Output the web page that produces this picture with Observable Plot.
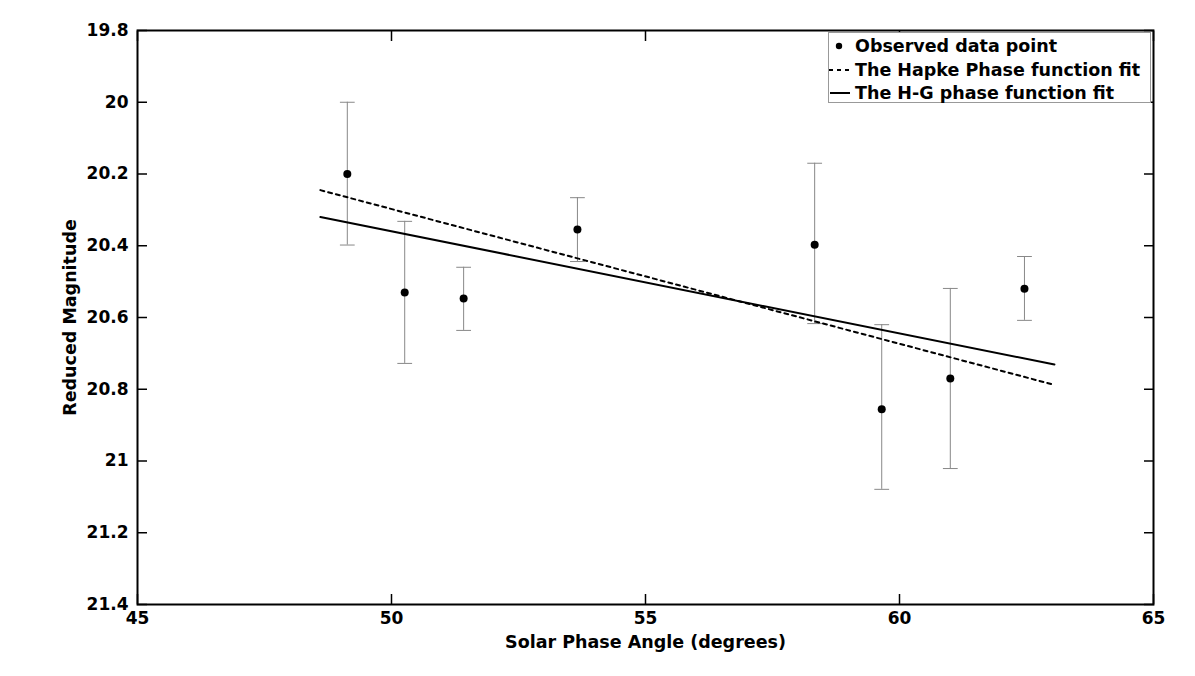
<!DOCTYPE html>
<html>
<head>
<meta charset="utf-8">
<script src="https://cdn.jsdelivr.net/npm/d3@7"></script>
<script src="https://cdn.jsdelivr.net/npm/@observablehq/plot@0.6"></script>
<style>
  html, body { margin: 0; padding: 0; background: #fff; }
  #wrap { position: relative; width: 1195px; height: 676px; font-family: "DejaVu Sans", sans-serif; }
  #legend { position: absolute; left: 828px; top: 32px; width: 323px; height: 71px;
    border: 1px solid #999; background: #fff; box-sizing: border-box;
    font-weight: bold; font-size: 17.5px; color: #000; }
  .row { position: absolute; left: 0; height: 22px; display: flex; align-items: center; white-space: nowrap; }
  .row svg { width: 26px; height: 22px; flex: none; }
</style>
</head>
<body>
<div id="wrap"></div>
<script>
// ---- Data ----
const phaseAngle = [49.13, 50.26, 51.42, 53.66, 58.33, 59.65, 61.0, 62.46];
const magnitude  = [20.20, 20.53, 20.547, 20.355, 20.397, 20.856, 20.77, 20.52];
const errLow     = [20.00, 20.332, 20.46, 20.266, 20.17, 20.62, 20.519, 20.43];
const errHigh    = [20.398, 20.728, 20.636, 20.444, 20.617, 21.079, 21.021, 20.608];

const hapkeX = [48.6, 63.0];
const hapkeY = [20.245, 20.786];
const hgX    = [48.6, 63.05];
const hgY    = [20.32, 20.731];

const xTicks = [45, 50, 55, 60, 65];
const yTicks = [19.8, 20, 20.2, 20.4, 20.6, 20.8, 21, 21.2, 21.4];

const legendLabels = ["Observed data point", "The Hapke Phase function fit", "The H-G phase function fit"];
const xLabel = "Solar Phase Angle (degrees)";
const yLabel = "Reduced Magnitude";

// ---- Build ----
const points = phaseAngle.map((x, i) => ({x, y: magnitude[i], lo: errLow[i], hi: errHigh[i]}));
const hapke = hapkeX.map((x, i) => ({x, y: hapkeY[i]}));
const hg = hgX.map((x, i) => ({x, y: hgY[i]}));

const capShape = {draw(ctx, l) { ctx.moveTo(0, 0); ctx.lineTo(0, -l); }};
const fmt = d => String(+d.toFixed(1));
const tickStyle = {fontSize: 17, fontWeight: "bold", fill: "#000"};

const chart = Plot.plot({
  width: 1195,
  height: 676,
  marginLeft: 137,
  marginRight: 42,
  marginTop: 30,
  marginBottom: 72,
  style: {fontFamily: "DejaVu Sans, sans-serif", background: "#fff", overflow: "visible"},
  x: {domain: [45, 65]},
  y: {domain: [21.4, 19.8]},
  marks: [
    // error bars
    Plot.ruleX(points, {x: "x", y1: "lo", y2: "hi", stroke: "#888", strokeWidth: 1}),
    Plot.vector(points, {x: "x", y: "lo", length: 14, rotate: 90, anchor: "middle", shape: capShape, stroke: "#888", strokeWidth: 1}),
    Plot.vector(points, {x: "x", y: "hi", length: 14, rotate: 90, anchor: "middle", shape: capShape, stroke: "#888", strokeWidth: 1}),
    // fits
    Plot.line(hapke, {x: "x", y: "y", stroke: "#000", strokeWidth: 2, strokeDasharray: "4,4"}),
    Plot.line(hg, {x: "x", y: "y", stroke: "#000", strokeWidth: 2}),
    // observed
    Plot.dot(points, {x: "x", y: "y", r: 4, fill: "#000", stroke: "none"}),
    // axes: labels
    Plot.axisY(yTicks, {anchor: "left", tickSize: 0, tickPadding: 9, tickFormat: fmt, ...tickStyle, label: null}),
    Plot.axisX(xTicks, {anchor: "bottom", tickSize: 0, tickPadding: 7, tickFormat: fmt, ...tickStyle, label: null}),
    // inward ticks
    Plot.axisY(yTicks, {anchor: "left", tickSize: -10, text: null, label: null, stroke: "#000", strokeWidth: 1.5}),
    Plot.axisY(yTicks, {anchor: "right", tickSize: -10, text: null, label: null, stroke: "#000", strokeWidth: 1.5}),
    Plot.axisX(xTicks, {anchor: "bottom", tickSize: -10, text: null, label: null, stroke: "#000", strokeWidth: 1.5}),
    Plot.axisX(xTicks, {anchor: "top", tickSize: -10, text: null, label: null, stroke: "#000", strokeWidth: 1.5}),
    Plot.frame({stroke: "#000", strokeWidth: 2}),
    // axis titles
    Plot.text([yLabel], {text: d => d, frameAnchor: "left", dx: -67, rotate: -90, textAnchor: "middle", lineAnchor: "middle", fontSize: 17.5, fontWeight: "bold", fill: "#000"}),
    Plot.text([xLabel], {text: d => d, frameAnchor: "bottom", dy: 38, textAnchor: "middle", lineAnchor: "middle", fontSize: 17.5, fontWeight: "bold", fill: "#000"})
  ]
});

const wrap = document.getElementById("wrap");
wrap.appendChild(chart);

// legend (inside plot, upper right)
const legend = document.createElement("div");
legend.id = "legend";
const swatches = [
  '<svg><circle cx="10" cy="11" r="3.2" fill="#000"/></svg>',
  '<svg><line x1="0" y1="11" x2="20" y2="11" stroke="#000" stroke-width="2" stroke-dasharray="4,4"/></svg>',
  '<svg><line x1="1" y1="11" x2="21" y2="11" stroke="#000" stroke-width="2"/></svg>'
];
legendLabels.forEach((lab, i) => {
  const row = document.createElement("div");
  row.className = "row";
  row.style.top = (2 + i * 23.5) + "px";
  row.innerHTML = swatches[i] + "<span>" + lab + "</span>";
  legend.appendChild(row);
});
wrap.appendChild(legend);
</script>
</body>
</html>
